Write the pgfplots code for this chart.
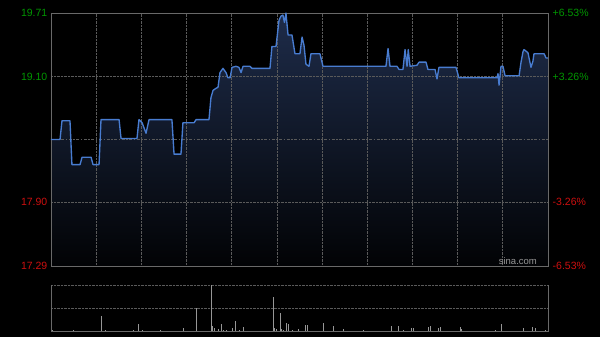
\documentclass[border=0pt]{standalone}
\usepackage{pgfplots}
\pgfplotsset{compat=1.18}
\usepackage{pgfplotstable}
\usepackage{fontspec}
\setmainfont{Liberation Sans}
\definecolor{upg}{RGB}{0,150,0}
\definecolor{dnr}{RGB}{205,15,15}
\definecolor{linec}{RGB}{72,124,208}
\definecolor{fillt}{RGB}{30,44,74}
\definecolor{fillb}{RGB}{2,3,5}
\definecolor{frm}{RGB}{105,105,105}
\definecolor{grd}{RGB}{90,90,90}
\definecolor{volc}{RGB}{150,150,150}
\pgfplotstableread{
m p
0 18.50
6.0 18.50
7.3 18.68
12.6 18.68
13.9 18.26
19.3 18.26
20.6 18.33
26.6 18.33
27.9 18.26
31.9 18.26
33.2 18.69
45.2 18.69
46.5 18.51
57.1 18.51
58.4 18.69
60.5 18.66
63.1 18.56
65.1 18.69
80.3 18.69
81.7 18.36
86.3 18.36
87.6 18.66
95.0 18.66
96.3 18.69
104.9 18.69
106.2 18.90
107.6 18.97
109.6 18.99
110.9 19.00
112.2 19.14
114.2 19.18
116.2 19.14
117.5 19.09
118.9 19.09
120.2 19.19
122.8 19.20
124.8 19.19
126.2 19.14
127.5 19.20
132.1 19.20
133.5 19.18
145.4 19.18
146.7 19.39
149.4 19.39
151.4 19.64
152.7 19.68
154.0 19.69
155.0 19.62
156.0 19.71
157.4 19.50
160.0 19.50
162.0 19.32
165.3 19.32
166.7 19.48
168.0 19.40
169.3 19.22
171.3 19.20
172.6 19.32
178.6 19.32
180.6 19.20
222.4 19.20
223.8 19.37
225.1 19.20
229.7 19.20
231.1 19.17
233.7 19.17
235.1 19.36
236.4 19.20
237.2 19.36
238.4 19.20
243.0 19.21
244.4 19.24
249.0 19.24
250.3 19.17
255.0 19.17
256.3 19.08
257.6 19.19
268.9 19.19
270.9 19.09
296.1 19.09
296.8 19.13
297.5 19.02
298.8 19.20
300.1 19.20
301.5 19.11
310.8 19.11
312.1 19.24
313.4 19.34
314.1 19.36
316.7 19.33
318.7 19.19
320.0 19.25
320.7 19.32
327.4 19.32
328.7 19.28
330 19.28
}\pricetable
\pgfplotstableread{
m v
1 1.2
4 0.8
8 1.0
11 0.9
15 1.3
18 0.8
22 1.1
25 0.9
29 1.0
33.2 15.7
36 1.2
40 0.9
44 1.1
48 0.8
52 1.0
55 1.3
58.0 8.0
61 1.5
65 1.0
69 0.9
73 1.2
77 0.8
81 1.1
84 1.0
87.8 4.0
91 1.0
94 0.9
96.7 23.4
100 1.1
103 0.8
106.4 46.4
107.4 6.0
108.2 4.0
110.9 2.5
112.9 7.7
114.4 2.0
116.7 2.0
118.5 1.0
120.6 4.0
122.4 10.7
125 1.2
127.7 4.4
131 1.0
134 0.9
137 1.1
140 0.8
143 1.0
147.6 34.4
148.3 3.5
149.9 2.5
152.1 18.4
153.2 2.5
154.2 2.0
156.5 9.0
157.6 8.0
160 1.2
164.2 2.5
168.7 6.4
170.0 6.4
173 1.0
177 1.1
180.8 8.4
184 1.0
187.4 5.7
191 1.0
194.0 2.5
198 1.0
202 0.9
207.4 1.7
211 1.0
215 0.9
219 1.1
223 1.0
226.2 5.7
230.6 5.7
234 1.2
239.0 3.7
240.4 3.7
244 1.0
247 0.9
250.5 4.4
251.7 5.7
255 1.0
257.2 3.4
258.3 5.0
262 1.1
266 0.9
271.6 4.4
272.7 2.5
276 1.0
280 0.9
284 1.1
288 1.0
292 0.8
295 1.2
298.8 7.4
302 1.0
306 0.9
310 1.1
313.4 3.4
316 1.0
319.4 4.7
321.4 3.4
325 1.0
328 1.2
}\voltable
\begin{document}
\pagecolor{black}%
\begin{tikzpicture}
\begin{axis}[
  name=main,
  set layers,
  at={(0pt,0pt)}, anchor=south west,
  scale only axis, width=497pt, height=253pt,
  xmin=0, xmax=330, ymin=17.29, ymax=19.71,
  axis line style={draw=frm, line width=0.8pt},
  xtick={30,60,...,300}, xticklabels={},
  ytick={17.29,17.90,19.10,19.71},
  yticklabels={\textcolor{dnr}{17.29},\textcolor{dnr}{17.90},\textcolor{upg}{19.10},\textcolor{upg}{19.71}},
  yticklabel style={font=\fontsize{10.5}{12}\selectfont, inner sep=0pt, xshift=-3.5pt},
  major tick length=0pt,
  xmajorgrids, ymajorgrids,
  grid style={draw=grd, densely dotted, line width=0.7pt},
  extra y ticks={18.50}, extra y tick labels={},
  extra y tick style={grid style={draw=grd, dash pattern=on 1.5pt off 1.5pt on 3pt off 1.5pt, line width=0.7pt}},
]
\addplot[on layer=axis background, draw=none, top color=fillt, bottom color=fillb] table[x=m,y=p] {\pricetable} \closedcycle;
\addplot[draw=linec, line width=1.35pt, line join=round] table[x=m,y=p] {\pricetable};
\node[anchor=south east, inner sep=0pt, text=volc, font=\fontsize{9.5}{11}\selectfont] at (rel axis cs:0.978,0.006) {sina.com};
\coordinate (BL) at (rel axis cs:0,0);
\end{axis}
\begin{axis}[
  at={(BL)}, anchor=south west,
  scale only axis, width=497pt, height=253pt,
  xmin=0, xmax=330, ymin=17.29, ymax=19.71,
  axis y line*=right, hide x axis,
  axis line style={draw=frm, line width=0.8pt},
  ytick={17.29,17.90,19.10,19.71},
  yticklabels={\textcolor{dnr}{-6.53\%},\textcolor{dnr}{-3.26\%},\textcolor{upg}{+3.26\%},\textcolor{upg}{+6.53\%}},
  yticklabel style={font=\fontsize{10.5}{12}\selectfont, inner sep=0pt, xshift=4.5pt},
  major tick length=0pt,
]
\end{axis}
\begin{axis}[
  at={(BL)}, anchor=south west, yshift=-65.7pt,
  scale only axis, width=497pt, height=46.4pt,
  xmin=0, xmax=330, ymin=0, ymax=46.4,
  axis line style={draw=none},
  xtick=\empty, ytick={23.2,46.4}, yticklabels={},
  major tick length=0pt,
  ymajorgrids,
  grid style={draw=grd, densely dotted, line width=0.8pt},
  clip=false,
]
\addplot[ycomb, draw=volc, line width=0.9pt] table[x=m,y=v] {\voltable};
\draw[frm, line width=0.8pt] (axis cs:0,46.4) -- (axis cs:0,0) -- (axis cs:330,0) -- (axis cs:330,46.4);
\end{axis}
\pgfresetboundingbox
\path[use as bounding box] (BL) ++(-51pt,-71pt) rectangle ++(600pt,337pt);
\end{tikzpicture}
\end{document}
